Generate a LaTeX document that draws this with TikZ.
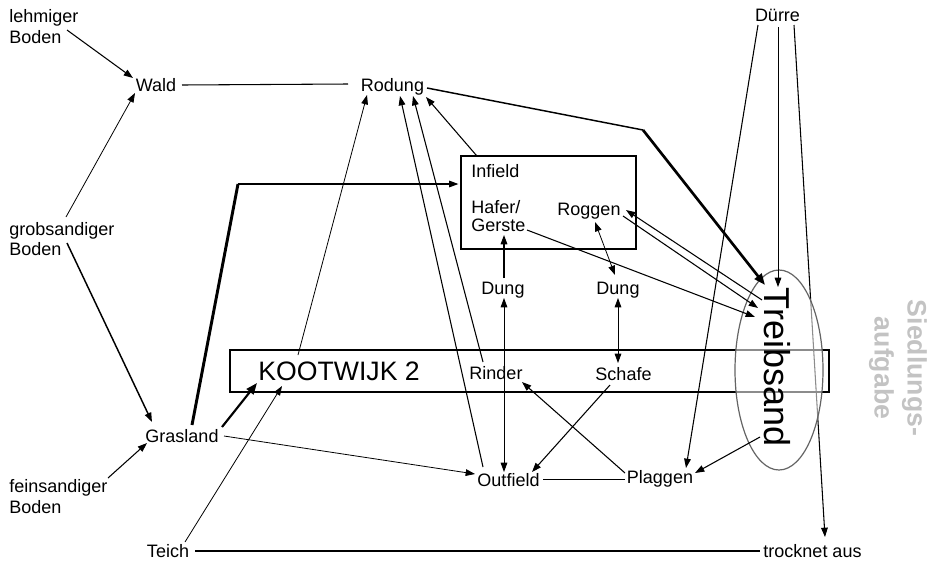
\documentclass[tikz,border=0pt]{standalone}
\usepackage{fontspec}
\setmainfont{Liberation Sans}
\usetikzlibrary{arrows.meta,shapes.geometric}
\definecolor{siedlgray}{RGB}{195,195,195}
\definecolor{ellgray}{RGB}{100,100,100}
\begin{document}
\begin{tikzpicture}[x=0.75pt,y=-0.75pt,
  lbl/.style={inner sep=0pt,anchor=base,font=\fontsize{13.5}{15.5}\selectfont},
  mlbl/.style={inner sep=0pt,anchor=west,align=left,font=\fontsize{13.5}{15.5}\selectfont},
  link/.style={line width=0.8pt},
  fine/.style={line width=0.6pt},
  heavy/.style={line width=2pt},
  arr/.style={-{Triangle[length=7pt,width=5pt]}},
  barr/.style={{Triangle[length=7pt,width=5pt]}-{Triangle[length=7pt,width=5pt]}},
  bigarr/.style={-{Triangle[length=8.5pt,width=6.5pt]}},
  frame/.style={draw,line width=0.9pt,inner sep=0pt}
]
\useasboundingbox (0,0) rectangle (929,561);

% frames
\node[frame,minimum width=131.25pt,minimum height=69.75pt] (infieldbox) at (548.5,202.5) {};
\node[frame,minimum width=449.25pt,minimum height=31.5pt] (kootbox) at (529.5,371) {};

% labels
\node[lbl] (wald) at (156,91) {Wald};
\node[lbl] (rodung) at (392.5,91) {Rodung};
\node[lbl] (gras) at (182,442) {Grasland};
\node[lbl] (teich) at (168,557) {Teich};
\node[mlbl] (lehm) at (9,26.5) {lehmiger\\Boden};
\node[mlbl] (grob) at (9,239) {grobsandiger\\Boden};
\node[mlbl] (fein) at (9,496.5) {feinsandiger\\Boden};
\node[lbl,anchor=base west] (infield) at (471,177) {Infield};
\node[mlbl,font=\fontsize{13.5}{13.5}\selectfont] (hafer) at (471,216.5) {Hafer/\\Gerste};
\node[lbl] (roggen) at (589,215) {Roggen};
\node[lbl] (dung1) at (503,294) {Dung};
\node[lbl] (dung2) at (618,294) {Dung};
\node[lbl,anchor=base west,font=\fontsize{20}{24}\selectfont] (koot) at (258,380) {KOOTWIJK 2};
\node[lbl] (rinder) at (496,379) {Rinder};
\node[lbl] (schafe) at (623.5,380) {Schafe};
\node[lbl] (outfield) at (508.5,486) {Outfield};
\node[lbl] (plaggen) at (660,483) {Plaggen};
\node[lbl] (trocknet) at (812.5,557) {trocknet aus};
\node[lbl] (duerre) at (777.5,21) {Dürre};
\node[rotate=-90,align=center,inner sep=0pt,text=siedlgray,
      font=\bfseries\fontsize{20}{24.75}\selectfont] (siedl) at (898,368) {Siedlungs-\\aufgabe};

% line running behind the drift-sand zone
\draw[link,arr] ([shift={(16.5,4)}]duerre.base) -- ([shift={(12.5,-20)}]trocknet.base);

% drift-sand zone
\node[ellipse,draw=ellgray,line width=0.9pt,fill=white,fill opacity=0.55,
      minimum width=66pt,minimum height=150pt,inner sep=0pt] (sand) at (779,370) {};
\node[rotate=-90,inner sep=0pt,font=\fontsize{27}{30}\selectfont] (treib) at (777.5,367) {Treibsand};

% connectors
\draw[link,arr] ([shift={(58,3.5)}]lehm.west) -- ([shift={(-23,-13)}]wald.base);
\draw[fine,arr] ([shift={(57,-22)}]grob.west) -- ([shift={(-21,2)}]wald.base);
\draw[line width=1.1pt,arr] ([shift={(58,4)}]grob.west) -- ([shift={(-30,-20)}]gras.base);
\draw[link,arr] ([shift={(99,-18.5)}]fein.west) -- ([shift={(-35,1)}]gras.base);
\draw[link] ([shift={(26,-6)}]wald.base) -- ([shift={(-44.5,-7)}]rodung.base);

\coordinate (bend1) at (643,130);
\draw[line width=1.1pt] ([shift={(34.5,-3)}]rodung.base) -- (bend1);
\draw[heavy,bigarr] (bend1) -- ([shift={(-14,-85)}]sand.center);

\coordinate (bend2) at (238,184);
\draw[line width=2.2pt] ([shift={(10,-17)}]gras.base) -- (bend2);
\draw[link,arr] (bend2) -- ([shift={(-2,-18.5)}]infieldbox.west);

\draw[line width=1.6pt,bigarr] ([shift={(40,-15)}]gras.base) -- ([shift={(-1,3)}]koot.base west);
\draw[fine,arr] ([shift={(42,-6)}]gras.base) -- ([shift={(-33.5,-12)}]outfield.base);
\draw[fine,arr] ([shift={(17,-15)}]teich.base) -- ([shift={(24,6)}]koot.base west);
\draw[link] ([shift={(27,-6)}]teich.base) -- ([shift={(-52.5,-6)}]trocknet.base);
\draw[fine,arr] ([shift={(40,-25)}]koot.base west) -- ([shift={(-25.5,4)}]rodung.base);
\draw[link,arr] ([shift={(-25.5,-19)}]outfield.base) -- ([shift={(7.5,5)}]rodung.base);
\draw[link,arr] ([shift={(-13,-17)}]rinder.base) -- ([shift={(20.5,5)}]rodung.base);
\draw[link,arr] ([shift={(16,0)}]infieldbox.north west) -- ([shift={(33.5,6)}]rodung.base);

\draw[link,arr] ([shift={(56,13.5)}]hafer.west) -- ([shift={(-24,-53)}]sand.center);
\draw[link,arr] ([shift={(-17,-70)}]sand.center) -- ([shift={(37,-5)}]roggen.base);
\draw[link,arr] ([shift={(34,1)}]roggen.base) -- ([shift={(-21,-62)}]sand.center);
\draw[link,arr] ([shift={(1,-16)}]dung1.base) -- ([shift={(33,18.5)}]hafer.west);
\draw[fine,barr] ([shift={(6,7)}]roggen.base) -- ([shift={(-3,-19)}]dung2.base);
\draw[fine,barr] ([shift={(1,4)}]dung1.base) -- ([shift={(-4.5,-14)}]outfield.base);
\draw[fine,barr] ([shift={(0,4)}]dung2.base) -- ([shift={(-5.5,-17)}]schafe.base);
\draw[link,arr] ([shift={(-13.5,5)}]schafe.base) -- ([shift={(23.5,-14)}]outfield.base);
\draw[link,arr] ([shift={(-35,-10)}]plaggen.base) -- ([shift={(26,3)}]rinder.base);
\draw[fine] ([shift={(34.5,-7)}]outfield.base) -- ([shift={(-35,-4)}]plaggen.base);
\draw[link,arr] ([shift={(-19,67)}]sand.center) -- ([shift={(35,-10)}]plaggen.base);
\draw[link,arr] ([shift={(-19.5,4)}]duerre.base) -- ([shift={(26,-15)}]plaggen.base);
\draw[fine,arr] ([shift={(0.5,6)}]duerre.base) -- ([shift={(-1,-83)}]sand.center);
\end{tikzpicture}
\end{document}
